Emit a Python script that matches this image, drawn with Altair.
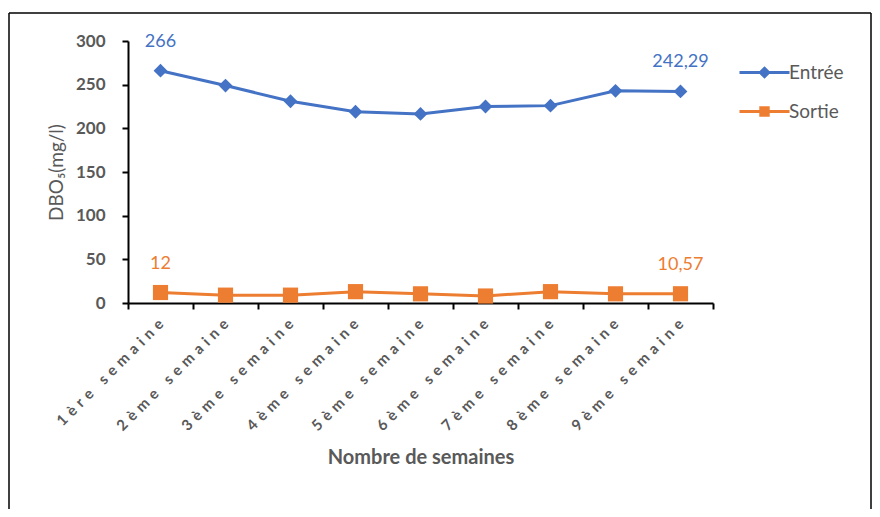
import altair as alt
import pandas as pd

weeks = ["1ère semaine", "2ème semaine", "3ème semaine", "4ème semaine", "5ème semaine",
         "6ème semaine", "7ème semaine", "8ème semaine", "9ème semaine"]
entree = [266, 249, 231, 219, 216.5, 225, 226, 243, 242.29]
sortie = [12, 9, 9, 13, 10.5, 8, 13, 10.5, 10.57]
series_names = ["Entrée", "Sortie"]
colors = ["#4472C4", "#ED7D31"]
y_ticks = [0, 50, 100, 150, 200, 250, 300]

rows = []
for name, vals in zip(series_names, [entree, sortie]):
    for i, (w, v) in enumerate(zip(weeks, vals)):
        lab = f"{v:g}".replace(".", ",") if i in (0, len(weeks) - 1) else ""
        rows.append({"week": w, "series": name, "value": v, "label": lab})
df = pd.DataFrame(rows)

FONT = "Lato"
GRAY = "#595959"

x_enc = alt.X("week:N", sort=weeks,
              scale=alt.Scale(type="band", paddingInner=0, paddingOuter=0),
              axis=alt.Axis(title="Nombre de semaines", tickBand="extent",
                            labelAngle=-45, labelAlign="right", labelBaseline="middle",
                            labelExpr="join(split(datum.label, ''), '\u2004')",
                            labelFont=FONT, labelFontSize=15, labelFontWeight="bold",
                            labelColor=GRAY, labelPadding=12,
                            titleFont=FONT, titleFontSize=20, titleFontWeight="bold",
                            titleColor=GRAY, titlePadding=14,
                            domainColor="black", domainWidth=2,
                            tickColor="black", tickWidth=2, tickSize=6))
y_enc = alt.Y("value:Q", scale=alt.Scale(domain=[0, 300], nice=False),
              axis=alt.Axis(title="DBO₅(mg/l)", values=y_ticks, grid=False,
                            labelFont=FONT, labelFontSize=17, labelFontWeight="bold",
                            labelColor=GRAY, labelPadding=17,
                            titleFont=FONT, titleFontSize=19, titleFontWeight="normal",
                            titleColor=GRAY, titlePadding=9,
                            domainColor="black", domainWidth=2,
                            tickColor="black", tickWidth=2, tickSize=6))

sym_paths = ["M-2.5,0H2.5M0,-0.42L0.42,0L0,0.42L-0.42,0Z",
             "M-2.5,0H2.5M-0.37,-0.37H0.37V0.37H-0.37Z"]
leg = alt.Legend(title=" ", titleFontSize=1, titlePadding=0,
                 orient="none", legendX=625, legendY=19,
                 labelFont=FONT, labelFontSize=19, labelColor=GRAY,
                 symbolSize=400, symbolStrokeWidth=3,
                 rowPadding=17, labelOffset=13)

base = alt.Chart(df)

one = pd.DataFrame({"a": [0]})
frame_left = alt.Chart(one).mark_rule(stroke="black", strokeWidth=1.5).encode(
    x=alt.value(-119), y=alt.value(-28), y2=alt.value(468))
frame_top = alt.Chart(one).mark_rule(stroke="black", strokeWidth=1.5).encode(
    x=alt.value(-119), x2=alt.value(743), y=alt.value(-28))
frame_right = alt.Chart(one).mark_rule(stroke="black", strokeWidth=1.5).encode(
    x=alt.value(743), y=alt.value(-28), y2=alt.value(468))

col = alt.Color("series:N", scale=alt.Scale(domain=series_names, range=colors), legend=leg)

lines = base.mark_line(strokeWidth=3).encode(x=x_enc, y=y_enc, color=col)

points = base.mark_point(filled=True, opacity=1).encode(
    x=x_enc, y=y_enc, color=col,
    shape=alt.condition("datum.series == 'Entrée'", alt.value("diamond"), alt.value("square")),
    size=alt.condition("datum.series == 'Entrée'", alt.value(190), alt.value(230)))

texts = base.mark_text(dy=-29, font=FONT, fontSize=18, baseline="middle").encode(
    x=x_enc, y=y_enc, color=col, text="label:N")

# legend-only layer: its own marks sit outside the clipped view
legend_layer = base.mark_point(filled=True, clip=True).encode(
    x=alt.value(-600), y=alt.value(-600),
    fill=alt.Fill("series:N", scale=alt.Scale(domain=series_names, range=colors), legend=leg),
    stroke=alt.Stroke("series:N", scale=alt.Scale(domain=series_names, range=colors), legend=leg),
    shape=alt.Shape("series:N", scale=alt.Scale(domain=series_names, range=sym_paths), legend=leg))

chart = alt.layer(frame_left, frame_top, frame_right, lines, points, texts, legend_layer).properties(
    width=585, height=262, background="white",
    padding={"left": 0, "top": 4, "right": 0, "bottom": 0},
).configure_view(stroke=None)

chart.save("out.html", embed_options={"renderer": "svg", "actions": False})
